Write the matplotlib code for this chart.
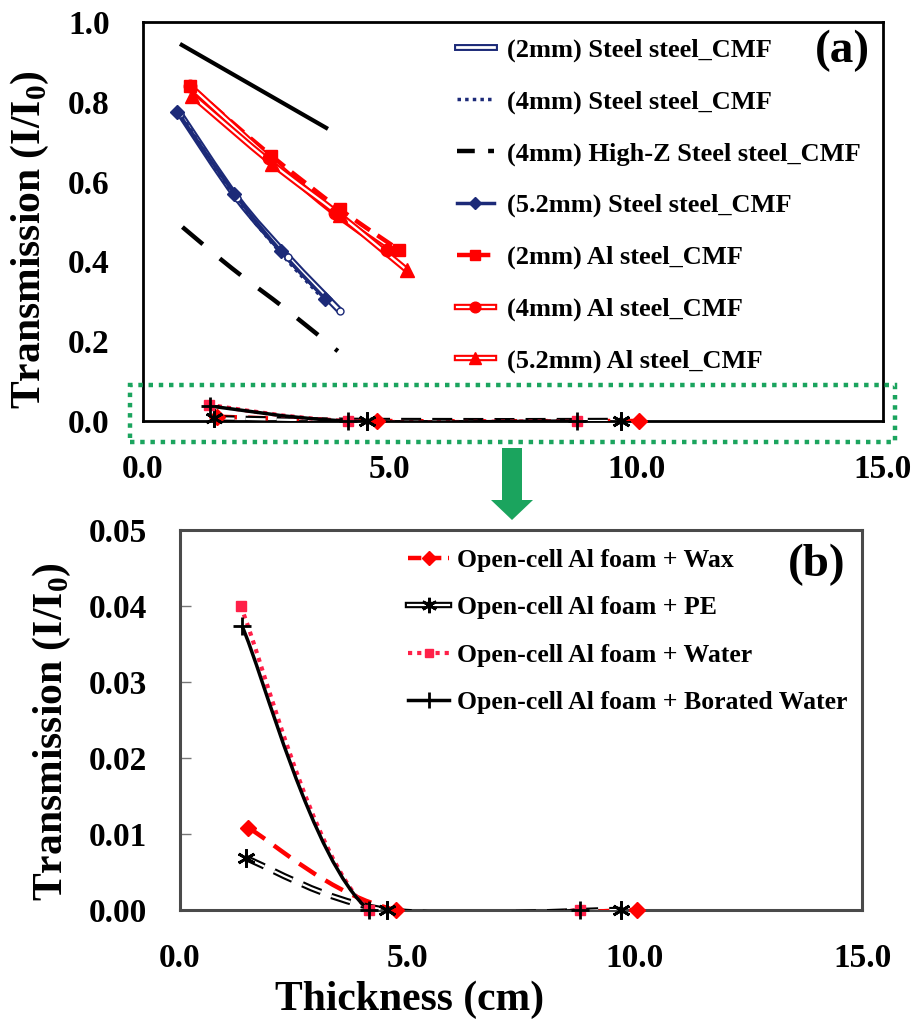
import numpy as np
import matplotlib
matplotlib.use('Agg')
import matplotlib.pyplot as plt
import matplotlib.patheffects as pe
from matplotlib.path import Path
from matplotlib.patches import PathPatch, Rectangle, FancyArrow
from matplotlib.lines import Line2D

plt.rcParams['font.family'] = ['Liberation Serif', 'DejaVu Serif']
plt.rcParams['font.weight'] = 'bold'
plt.rcParams['mathtext.fontset'] = 'custom'
plt.rcParams['mathtext.rm'] = 'Liberation Serif:bold'

# steel_CMF samples (thickness in cm, transmission I/I0)
steel2_x = [0.75, 1.9, 2.95, 4.0]
steel2_y = [0.77, 0.56, 0.41, 0.275]
steel4_x = [0.7, 1.85, 2.8, 3.7]
steel4_y = [0.78, 0.565, 0.42, 0.30]
highz_x = [0.8, 1.8, 2.9, 3.95]
highz_y = [0.486, 0.383, 0.28, 0.175]
steel52_x = [0.7, 1.85, 2.8, 3.7]
steel52_y = [0.775, 0.57, 0.425, 0.305]
al2_x = [0.95, 2.6, 4.0, 5.2]
al2_y = [0.84, 0.665, 0.53, 0.428]
al4_x = [0.95, 2.55, 3.9, 4.95]
al4_y = [0.84, 0.66, 0.52, 0.428]
al52_x = [1.0, 2.62, 4.0, 5.35]
al52_y = [0.815, 0.645, 0.515, 0.378]
ref_x = [0.75, 3.75]
ref_y = [0.945, 0.732]

# open-cell Al foam fillers
wax_x = [1.5, 4.75, 10.05]
wax_y = [0.0108, 0.0, 0.0]
pe_x = [1.45, 4.55, 9.7]
pe_y = [0.0068, 0.0, 0.0]
water_x = [1.33, 4.15, 8.8]
water_y = [0.040, 0.0, 0.0]
borated_x = [1.36, 4.15, 8.8]
borated_y = [0.0374, 0.0, 0.0]

steel_labels = ['(2mm) Steel steel_CMF', '(4mm) Steel steel_CMF',
                '(4mm) High-Z Steel steel_CMF', '(5.2mm) Steel steel_CMF',
                '(2mm) Al steel_CMF', '(4mm) Al steel_CMF', '(5.2mm) Al steel_CMF']
foam_labels = ['Open-cell Al foam + Wax', 'Open-cell Al foam + PE',
               'Open-cell Al foam + Water', 'Open-cell Al foam + Borated Water']

navy = '#1c2a78'
red = '#ff0000'
pink = '#ff2048'
green = '#1ba45e'
asterisk = (6, 2, 0)

steel_styles = [
    dict(color='white', lw=2.0, ls='-', outline=navy, marker='o', ms=5, mfc='white', mec=navy, leg_marker='None'),
    dict(color=navy, lw=2.5, ls=(0, (1, 1.2)), marker='None'),
    dict(color='black', lw=3.2, ls=(0, (6, 5)), marker='None', leg_ls=(0, (4, 3))),
    dict(color=navy, lw=2.5, ls='-', marker='D', ms=7, mfc=navy, mec=navy),
    dict(color=red, lw=3.2, ls=(0, (4, 2)), marker='s', ms=8, mfc=red, mec=red, leg_ls=(0, (3, 1.5))),
    dict(color='white', lw=1.6, ls='-', outline=red, marker='o', ms=9, mfc=red, mec=red),
    dict(color='white', lw=1.6, ls='-', outline=red, marker='^', ms=10, mfc=red, mec=red),
]
foam_styles = [
    dict(color=red, lw=3.2, ls=(0, (4.5, 2.5)), marker='D', ms=8, mfc=red, mec=red, leg_ls=(0, (3, 1.5))),
    dict(color='white', lw=1.6, ls=(0, (9, 5)), outline='black', marker=asterisk, ms=13, mew=2, mfc='black', mec='black', leg_ls='-'),
    dict(color=pink, lw=3.0, ls=(0, (1, 1.2)), marker='s', ms=7, mfc=pink, mec=pink),
    dict(color='black', lw=2.5, ls='-', marker='+', ms=13, mew=2, mfc='black', mec='black'),
]


def smooth_path(x, y):
    # Catmull-Rom style bezier through the points, like a smoothed spreadsheet line
    pts = np.column_stack([x, y]).astype(float)
    n = len(pts)
    verts = [pts[0]]
    codes = [Path.MOVETO]
    for i in range(n - 1):
        p0 = pts[max(i - 1, 0)]
        p1 = pts[i]
        p2 = pts[i + 1]
        p3 = pts[min(i + 2, n - 1)]
        verts += [p1 + (p2 - p0) / 6, p2 - (p3 - p1) / 6, p2]
        codes += [Path.CURVE4] * 3
    return Path(verts, codes)


def effects(st):
    if 'outline' in st:
        return [pe.Stroke(linewidth=st['lw'] + 3, foreground=st['outline']), pe.Normal()]
    return []


def draw_series(ax, x, y, st):
    patch = PathPatch(smooth_path(x, y), fill=False, edgecolor=st['color'],
                      lw=st['lw'], linestyle=st['ls'], zorder=3)
    patch.set_path_effects(effects(st))
    ax.add_patch(patch)
    if st['marker'] != 'None':
        ax.plot(x, y, ls='none', marker=st['marker'], ms=st['ms'], mfc=st['mfc'],
                mec=st['mec'], mew=st.get('mew', 1), clip_on=False, zorder=4)


def legend_handle(st):
    # line (with its outline) and marker are drawn as two overlaid handles
    line = Line2D([], [], color=st['color'], lw=st['lw'], ls=st.get('leg_ls', st['ls']))
    line.set_path_effects(effects(st))
    mk = st.get('leg_marker', st['marker'])
    if mk == 'None':
        return line
    dot = Line2D([], [], ls='none', marker=mk, ms=st['ms'] * 0.85,
                 mfc=st['mfc'], mec=st['mec'], mew=st.get('mew', 1))
    return (line, dot)


fig = plt.figure(figsize=(9.2, 10.26), dpi=100)
ax_a = fig.add_axes([0.1554, 0.5897, 0.8043, 0.3889])
ax_b = fig.add_axes([0.1957, 0.1131, 0.7413, 0.3704])

steel_data = [(steel2_x, steel2_y), (steel4_x, steel4_y), (highz_x, highz_y),
              (steel52_x, steel52_y), (al2_x, al2_y), (al4_x, al4_y), (al52_x, al52_y)]
foam_data = [(wax_x, wax_y), (pe_x, pe_y), (water_x, water_y), (borated_x, borated_y)]

# panel (a)
draw_series(ax_a, ref_x, ref_y, dict(color='black', lw=3.0, ls='-', marker='None'))
for (x, y), st in zip(steel_data, steel_styles):
    draw_series(ax_a, x, y, st)
for (x, y), st in zip(foam_data, foam_styles):
    draw_series(ax_a, x, y, st)

ax_a.set_xlim(0, 15)
ax_a.set_ylim(0, 1)
ax_a.set_xticks([0, 5, 10, 15])
ax_a.set_xticklabels(['%.1f' % v for v in [0, 5, 10, 15]])
ax_a.set_yticks(np.arange(0, 1.01, 0.2))
ax_a.set_yticklabels(['%.1f' % v for v in np.arange(0, 1.01, 0.2)])
ax_a.tick_params(length=0, labelsize=24)
ax_a.tick_params(axis='y', pad=24)
ax_a.tick_params(axis='x', pad=24)
for s in ax_a.spines.values():
    s.set_linewidth(2)
    s.set_color('black')

ax_a.legend([legend_handle(st) for st in steel_styles], steel_labels,
            loc='upper left', bbox_to_anchor=(457 / 920, 1 - 38 / 1026),
            bbox_transform=fig.transFigure, frameon=False, fontsize=19,
            handlelength=1.4, handletextpad=0.5, labelspacing=1.06,
            borderpad=0, borderaxespad=0)

# zoom box around the low-transmission region
ax_a.add_patch(Rectangle((-0.26, -0.053), 15.5, 0.143, fill=False, edgecolor=green,
                         lw=3.2, linestyle=(0, (1, 1.3)), clip_on=False, zorder=5))
fig.add_artist(FancyArrow(5.12, 5.78, 0, -0.72, width=0.2, head_width=0.42,
                          head_length=0.2, length_includes_head=True,
                          transform=fig.dpi_scale_trans, color=green, lw=0))

# panel (b)
for (x, y), st in zip(foam_data, foam_styles):
    draw_series(ax_b, x, y, st)

ax_b.set_xlim(0, 15)
ax_b.set_ylim(0, 0.05)
ax_b.set_xticks([0, 5, 10, 15])
ax_b.set_xticklabels(['%.1f' % v for v in [0, 5, 10, 15]])
ax_b.set_yticks(np.arange(0, 0.051, 0.01))
ax_b.set_yticklabels(['%.2f' % v for v in np.arange(0, 0.051, 0.01)])
ax_b.tick_params(axis='x', length=0, labelsize=24, pad=24)
ax_b.tick_params(axis='y', direction='in', length=8, width=1, color='#777777',
                 labelsize=24, pad=24)
for s in ax_b.spines.values():
    s.set_linewidth(2.2)
    s.set_color('#4a4a4a')

ax_b.legend([legend_handle(st) for st in foam_styles], foam_labels,
            loc='upper left', bbox_to_anchor=(408 / 920, 1 - 549 / 1026),
            bbox_transform=fig.transFigure, frameon=False, fontsize=18.5,
            handlelength=1.6, handletextpad=0.3, labelspacing=0.95,
            borderpad=0, borderaxespad=0)

fig.text(842 / 920, 1 - 51 / 1026, '(a)', fontsize=34, ha='center', va='center')
fig.text(817 / 920, 1 - 565 / 1026, '(b)', fontsize=34, ha='center', va='center')
fig.text(30 / 920, 1 - 240 / 1026, r'Transmission (I/I$_\mathrm{0}$)', fontsize=30,
         rotation=90, ha='center', va='center')
fig.text(52 / 920, 1 - 732 / 1026, r'Transmission (I/I$_\mathrm{0}$)', fontsize=30,
         rotation=90, ha='center', va='center')
fig.text(410 / 920, 1 - 1000 / 1026, 'Thickness (cm)', fontsize=30, ha='center', va='center')

fig.savefig('out.png', dpi=100)
